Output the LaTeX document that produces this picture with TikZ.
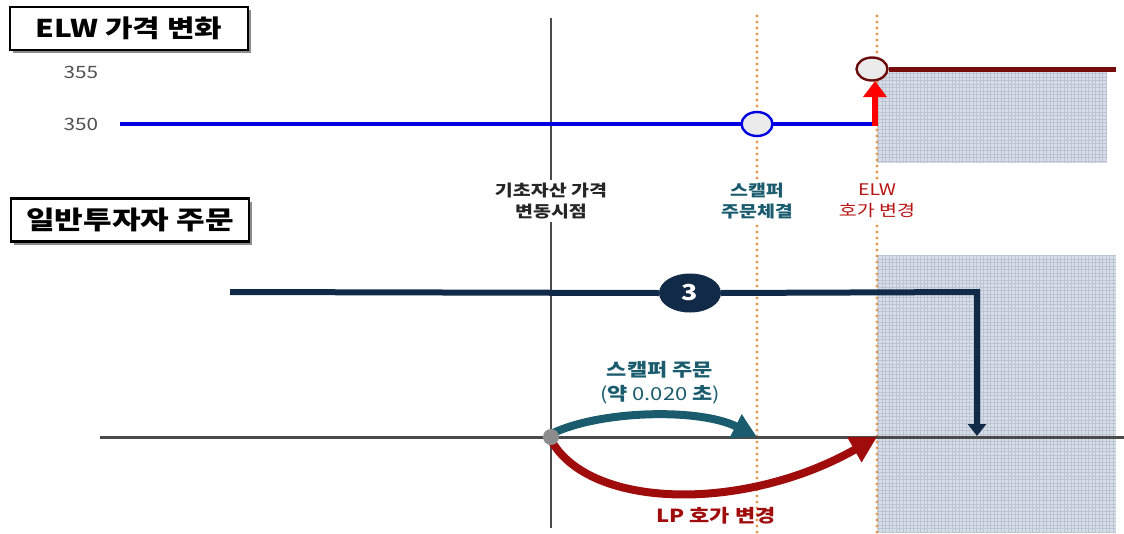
\documentclass[tikz,border=0pt]{standalone}
\usepackage{fontspec}
\setmainfont{Noto Sans CJK KR}[FakeStretch=1.22]
\usetikzlibrary{arrows.meta,shadows,shapes.geometric}
\definecolor{navy}{RGB}{16,42,72}
\definecolor{tealc}{RGB}{26,92,110}
\definecolor{dred}{RGB}{160,12,12}
\definecolor{maroonc}{RGB}{120,12,12}
\definecolor{lblue}{RGB}{0,0,225}
\definecolor{dotor}{RGB}{232,150,75}
\definecolor{hatchbg}{RGB}{216,223,233}
\definecolor{hatchln}{RGB}{186,196,211}
\definecolor{axisgray}{RGB}{75,75,75}
\definecolor{labred}{RGB}{185,20,20}
\definecolor{numgray}{RGB}{80,80,80}
\begin{document}
\begin{tikzpicture}[x=1pt,y=-1pt,
  titlebox/.style={draw=black, line width=2.2pt, fill=white, minimum width=238pt, minimum height=43pt,
    inner sep=0pt, font=\fontsize{24.5}{26}\selectfont\bfseries,
    drop shadow={shadow xshift=3pt, shadow yshift=-3pt, fill=black!45, opacity=1}},
  numlab/.style={font=\fontsize{17}{19}\selectfont, text=numgray, anchor=west},
  vlab/.style={fill=white, inner sep=3pt, align=center, font=\fontsize{16}{21}\selectfont\bfseries},
  dotline/.style={dotor, line width=3.2pt, dash pattern=on 0pt off 6pt, line cap=round},
  curvlab/.style={align=center, font=\fontsize{18}{24}\selectfont},
]
\useasboundingbox (0,0) rectangle (1124,533);
% hatched areas
\fill[hatchbg] (877,72) rectangle (1107,163);
\draw[hatchln, line width=0.6pt, step=3.5pt] (877,72) grid (1107,163);
\fill[hatchbg] (877,255) rectangle (1116,533);
\draw[hatchln, line width=0.6pt, step=3.5pt] (877,255) grid (1116,533);
% vertical guides
\coordinate (vAt) at (551,18);
\coordinate (vAb) at (551,528);
\coordinate (vBt) at (757,16);
\coordinate (vBb) at (757,533);
\coordinate (vCt) at (877,16);
\coordinate (vCb) at (877,533);
\draw[axisgray, line width=2.6pt] (vAt) -- (vAb);
\draw[dotline] (vBt) -- (vBb);
\draw[dotline] (vCt) -- (vCb);
% horizontal axis
\coordinate (axL) at (100,437);
\coordinate (axR) at (1124,437);
\draw[axisgray, line width=3pt] (axL) -- (axR);
% titles
\node[titlebox] (t1) at (129,28.5) {ELW 가격 변화};
\node[titlebox, font=\fontsize{25.5}{27}\selectfont\bfseries] (t2) at (130,220) {일반투자자 주문};
% values
\node[numlab] (n355) at (60,72) {355};
\node[numlab] (n350) at (60,124) {350};
% vertical labels
\node[vlab, text=black!85] (lA) at (551,201) {기초자산 가격\\변동시점};
\node[vlab, text=tealc] (lB) at (757,201) {스캘퍼\\주문체결};
\node[vlab, text=labred, font=\fontsize{16}{21}\selectfont] (lC) at (877,201) {ELW\\호가 변경};
% ELW price
\coordinate (b0) at (120,124);
\coordinate (b1) at (877,124);
\draw[lblue, line width=4.2pt] (b0) -- (b1);
\node[ellipse, draw=lblue, line width=2.4pt, fill=black!8, minimum width=31pt, minimum height=24pt, inner sep=0pt] (bc) at (757,124) {};
\coordinate (ra0) at (875,126);
\coordinate (ra1) at (875,81);
\draw[red, line width=6.5pt, -{Triangle[length=16pt,width=23pt]}] (ra0) -- (ra1);
\node[ellipse, draw=maroonc!90!black, line width=2.4pt, fill=black!8, minimum width=31pt, minimum height=23pt, inner sep=0pt] (rc) at (872,69) {};
\coordinate (r1) at (1116,69);
\draw[maroonc, line width=5pt] (rc.east) -- (r1);
% investor order
\coordinate (o0) at (230,292);
\coordinate (oc) at (977,292);
\coordinate (o1) at (977,436);
\node[ellipse, fill=navy, minimum width=62pt, minimum height=39pt, inner sep=0pt, text=white, font=\fontsize{22}{24}\selectfont\bfseries] (c3) at (690,293) {3};
\draw[navy, line width=6pt] (o0) -- (c3.west);
\draw[navy, line width=6pt, -{Triangle[length=12pt,width=18pt]}] (c3.east) -- (oc) -- (o1);
% origin and curves
\coordinate (eB) at (757,437);
\coordinate (eC) at (877,437);
\draw[tealc, line width=8pt, -{Triangle[length=24pt,width=25pt]}] (551,434) .. controls (600,410) and (700,408) .. (eB);
\draw[dred, line width=8pt, -{Triangle[length=26pt,width=27pt]}] (551,440) .. controls (590,510) and (745,512) .. (eC);
\node[circle, fill=black!45, minimum size=16pt, inner sep=0pt] (org) at (551,437) {};
\node[curvlab, text=tealc] (sl) at (660,383) {\textbf{스캘퍼 주문}\\(\textbf{약} 0.020 \textbf{초})};
\node[curvlab, text=dred] (lp) at (716,516) {\textbf{LP 호가 변경}};
\end{tikzpicture}
\end{document}
